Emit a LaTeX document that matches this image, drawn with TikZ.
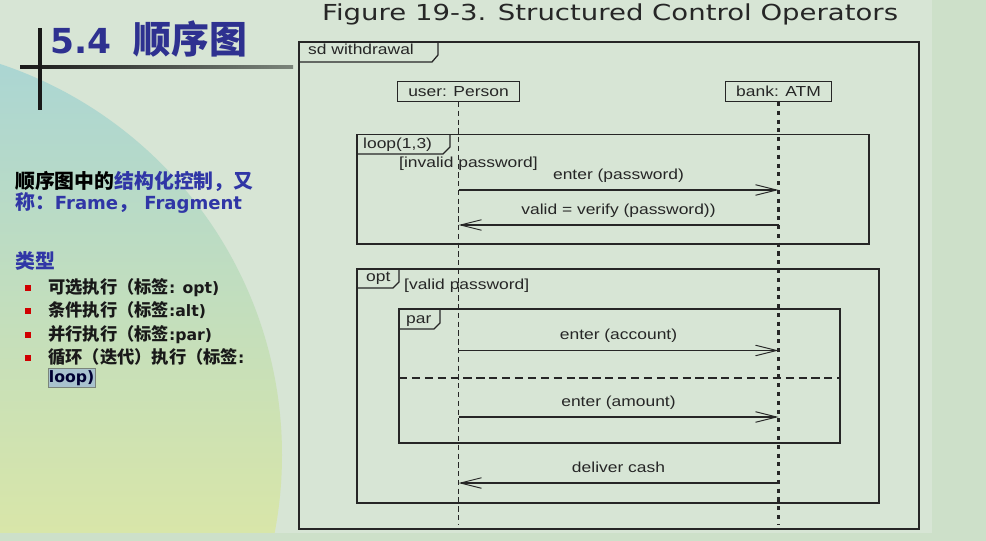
\documentclass[tikz,border=0pt]{standalone}
\usepackage{fontspec}
\setmainfont{Liberation Sans}
\newfontfamily\umlfont{Liberation Sans}[FakeStretch=1.2]
\newfontfamily\figfont{DejaVu Sans}[FakeStretch=1.25]
\newfontfamily\verdfont{DejaVu Sans}
\newfontfamily\cjkfont{Noto Sans CJK SC}[Scale=1.1]
\newcommand{\zh}{\cjkfont}
\usepackage{xcolor}
\usetikzlibrary{arrows.meta, positioning}

\definecolor{slidebg}{HTML}{D7E5D5}
\definecolor{edgebg}{HTML}{CDE0C9}
\definecolor{titleblue}{HTML}{2E3190}
\definecolor{textblue}{HTML}{3036A6}
\definecolor{tealtop}{HTML}{A9D5D5}
\definecolor{greenmid}{HTML}{C2DCC0}
\definecolor{yellowbot}{HTML}{D9E6A8}
\definecolor{umlgray}{HTML}{262626}
\definecolor{markblue}{HTML}{A8C2CE}
\definecolor{bulletred}{HTML}{D00000}
\definecolor{rulegray}{HTML}{7A847A}

\begin{document}
\begin{tikzpicture}[
  x=0.03cm, y=-0.03cm,
  frame/.style={draw=umlgray, line width=1.1pt},
  outerframe/.style={draw=umlgray, line width=1.4pt},
  umltext/.style={font=\umlfont\fontsize{12.4}{14}\selectfont, text=umlgray, inner sep=0pt},
  lifebox/.style={draw=umlgray, line width=0.9pt, font=\umlfont\fontsize{12.4}{14}\selectfont, text=umlgray, minimum height=0.6cm, inner xsep=9pt},
  msg/.style={-{Straight Barb[length=18pt, width=9pt, line width=0.8pt]}, line width=0.9pt, draw=umlgray},
  msglabel/.style={font=\umlfont\fontsize{12.4}{14}\selectfont, text=umlgray, above=3pt, text depth=0.25em},
  userline/.style={draw=umlgray, line width=1pt, dash pattern=on 4.5pt off 3pt},
  bankline/.style={draw=black!85, line width=2.8pt, dash pattern=on 3.5pt off 4pt},
  sepline/.style={draw=umlgray, line width=1pt, dash pattern=on 7pt off 4pt},
  headtext/.style={font=\verdfont\bfseries\fontsize{15.4}{20}\selectfont, inner sep=0pt},
  itemtext/.style={font=\verdfont\bfseries\fontsize{13.4}{17}\selectfont, text=black!90, inner sep=0pt},
  bullet/.style={fill=bulletred, minimum size=0.16cm, inner sep=0pt}
]
\useasboundingbox (0,0) rectangle (986,541);

% slide background
\fill[slidebg] (0,0) rectangle (986,541);
\begin{scope}
  \clip (-130,455) circle (412);
  \shade[top color=tealtop, middle color=greenmid, bottom color=yellowbot] (0,40) rectangle (300,541);
\end{scope}
\fill[edgebg] (932,0) rectangle (986,541);
\fill[edgebg] (0,533) rectangle (986,541);

% title cross
\shade[left color=black!90, right color=rulegray] (20,65.5) rectangle (293,68.5);
\fill[black!90] (38,28) rectangle (42,110);
\node[anchor=base west, inner sep=0pt, text=titleblue, font=\verdfont\bfseries\fontsize{29.4}{34}\selectfont] (title) at (50,54) {5.4\hspace{19pt}{\zh 顺序图}};

% left column
\node[headtext, anchor=base west] (intro1) at (15,189) {{\zh 顺序图中的}{\zh\color{textblue}结构化控制，又}};
\node[headtext, anchor=base west, text=textblue] (intro2) at (15,210) {{\zh 称：}Frame{\zh ，} Fragment};
\node[headtext, anchor=base west, text=textblue] (kinds) at (15,268) {{\zh 类型}};

\node[itemtext, anchor=base west] (item1) at (48,293) {{\zh 可选执行（标签}: opt)};
\node[itemtext, anchor=base west] (item2) at (48,316) {{\zh 条件执行（标签}:alt)};
\node[itemtext, anchor=base west] (item3) at (48,340) {{\zh 并行执行（标签}:par)};
\node[itemtext, anchor=base west] (item4) at (48,363) {{\zh 循环（迭代）执行（标签}:};
\node[itemtext, anchor=base west, fill=markblue, draw=rulegray, line width=0.5pt, inner xsep=0.5pt, inner ysep=1.5pt, text=black!80!blue] (item4b) at (48,382) {loop)};
\foreach \i/\yy in {1/288, 2/311, 3/335, 4/358}
  \node[bullet] (bul\i) at (28,\yy) {};

% figure caption
\node[anchor=base west, inner sep=0pt, text=black!85, font=\figfont\fontsize{18.8}{22}\selectfont] (figcap) at (322,20.5) {Figure 19-3. Structured Control Operators};

% sd frame
\draw[outerframe] (299,42) rectangle (919,529);
\draw[frame] (299,62) -- (432,62) -- (438,55) -- (438,42);
\node[umltext, anchor=base west] (sdtag) at (308,55) {sd withdrawal};

% lifelines
\node[lifebox] (user) at (458.5,91.5) {user: Person};
\node[lifebox] (bank) at (778.5,91.5) {bank: ATM};
\coordinate (userend) at (user.south |- 0,524);
\coordinate (bankend) at (bank.south |- 0,524);
\draw[userline] (user) -- (userend);
\draw[bankline] (bank) -- (bankend);

% loop fragment
\draw[frame] (357,134.5) rectangle (869,244);
\draw[frame] (357,154) -- (443,154) -- (450,147) -- (450,134.5);
\node[umltext, anchor=base west] (looptag) at (363,149) {loop(1,3)};
\node[umltext, anchor=base west] (loopguard) at (399,168) {[invalid password]};

\coordinate (pwU) at (user.south |- 0,190);
\coordinate (pwB) at (bank.south |- 0,190);
\coordinate (vfU) at (user.south |- 0,225);
\coordinate (vfB) at (bank.south |- 0,225);
\draw[msg] (pwU) -- node[msglabel] {enter (password)} (pwB);
\draw[msg] (vfB) -- node[msglabel] {valid = verify (password))} (vfU);

% opt fragment
\draw[frame] (357,269) rectangle (879,503);
\draw[frame] (357,288) -- (393,288) -- (399,282) -- (399,269);
\node[umltext, anchor=base west] (opttag) at (366,281) {opt};
\node[umltext, anchor=base west] (optguard) at (404,289) {[valid password]};

% par fragment
\draw[frame] (399,309) rectangle (840,443);
\draw[frame] (399,329) -- (434,329) -- (440,323) -- (440,309);
\node[umltext, anchor=base west] (partag) at (406,323) {par};
\coordinate (sepL) at (399,378);
\coordinate (sepR) at (840,378);
\draw[sepline] (sepL) -- (sepR);

\coordinate (acU) at (user.south |- 0,350.5);
\coordinate (acB) at (bank.south |- 0,350.5);
\coordinate (amU) at (user.south |- 0,417);
\coordinate (amB) at (bank.south |- 0,417);
\coordinate (caU) at (user.south |- 0,483);
\coordinate (caB) at (bank.south |- 0,483);
\draw[msg] (acU) -- node[msglabel] {enter (account)} (acB);
\draw[msg] (amU) -- node[msglabel] {enter (amount)} (amB);
\draw[msg] (caB) -- node[msglabel] {deliver cash} (caU);

\end{tikzpicture}
\end{document}
